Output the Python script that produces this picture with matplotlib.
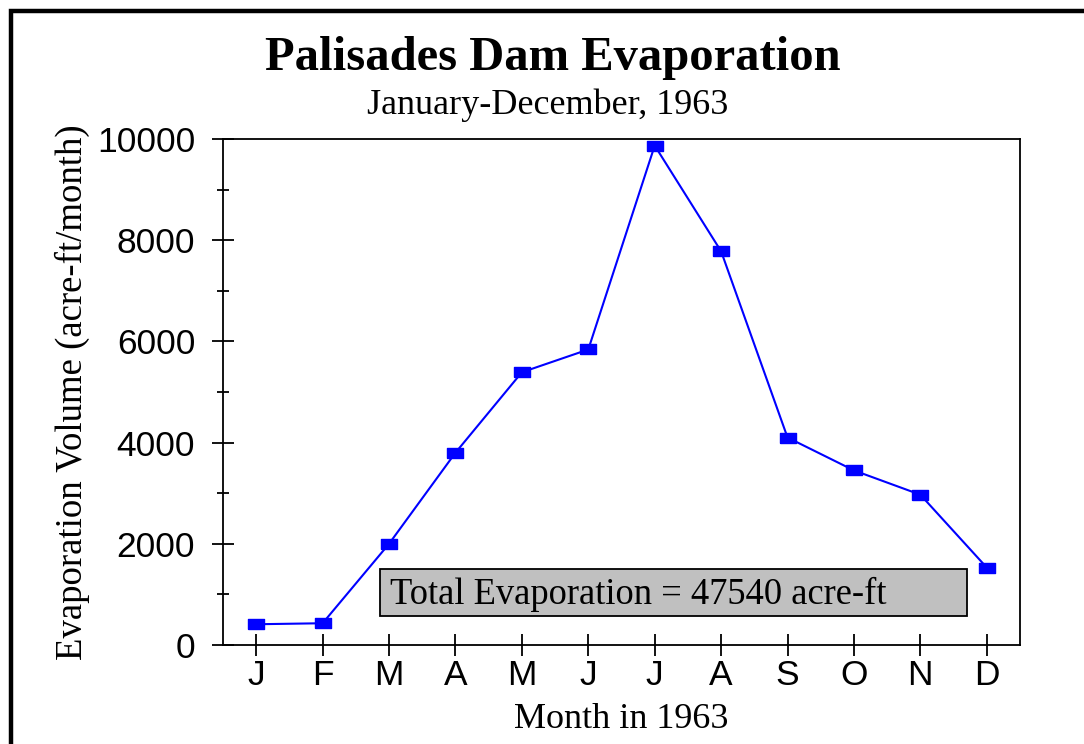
import numpy as np
import matplotlib
matplotlib.use("Agg")
import matplotlib.pyplot as plt
from matplotlib.patches import Rectangle

# monthly evaporation, acre-ft/month
months = ["J", "F", "M", "A", "M", "J", "J", "A", "S", "O", "N", "D"]
month_num = list(range(1, 13))
evap = [410, 430, 2000, 3800, 5390, 5840, 9870, 7780, 4100, 3450, 2970, 1530]
total_evap = 47540

serif = "Liberation Serif"
sans = "Liberation Sans"

fig = plt.figure(figsize=(10.84, 7.44), dpi=100)
ax = fig.add_axes([223/1084, 1 - 645/744, (1020-223)/1084, (645-139)/744])

# wide rectangular marker
box = [(-1.5, -1.0), (1.5, -1.0), (1.5, 1.0), (-1.5, 1.0), (-1.5, -1.0)]
ax.plot(month_num, evap, color="#0000ff", lw=1.5, marker=box, ms=11.5,
        mfc="#0000ff", mec="#0000ff", clip_on=False, zorder=3)

ax.set_xlim(0.5, 12.5)
ax.set_ylim(0, 10000)
ax.set_xticks(month_num)
ax.set_xticklabels(months, fontfamily=sans, fontsize=25.5)
ax.set_yticks(np.arange(0, 10001, 2000))
ax.set_yticks(np.arange(1000, 10000, 2000), minor=True)
for lab in ax.get_yticklabels():
    lab.set_fontfamily(sans)
    lab.set_fontsize(25.5)
ax.tick_params(axis="both", which="major", direction="inout", length=16, width=1.3)
ax.tick_params(axis="y", which="major", pad=12)
ax.tick_params(axis="x", which="major", pad=2)
ax.tick_params(axis="y", which="minor", direction="inout", length=8, width=1.3)
for s in ax.spines.values():
    s.set_linewidth(1.3)

ax.set_ylabel("Evaporation Volume (acre-ft/month)", fontfamily=serif, fontsize=26.5)
ax.set_xlabel("Month in 1963", fontfamily=serif, fontsize=26)
ax.yaxis.set_label_coords(-0.167, 0.5)
ax.xaxis.set_label_coords(0.5, -0.114)

# total box
ax.add_patch(Rectangle((2.86, 574), 8.84, 930, facecolor="#c0c0c0",
                       edgecolor="black", lw=1.3, zorder=2))
ax.text(3.01, 1000, "Total Evaporation = %d acre-ft" % total_evap,
        fontfamily=serif, fontsize=26.3, va="center", ha="left", zorder=4)

fig.text(553/1084, 1 - 70/744, "Palisades Dam Evaporation", fontfamily=serif,
         fontweight="bold", fontsize=35, ha="center", va="baseline")
fig.text(548/1084, 1 - 114/744, "January-December, 1963", fontfamily=serif,
         fontsize=26, ha="center", va="baseline")

# outer frame (partly cut off at right/bottom)
fig.patches.append(Rectangle((10.5/1084, -0.5), 2.0, 0.5 + (1 - 11/744),
                             transform=fig.transFigure, fill=False,
                             edgecolor="black", lw=3.2))

fig.savefig("out.png", dpi=100)
